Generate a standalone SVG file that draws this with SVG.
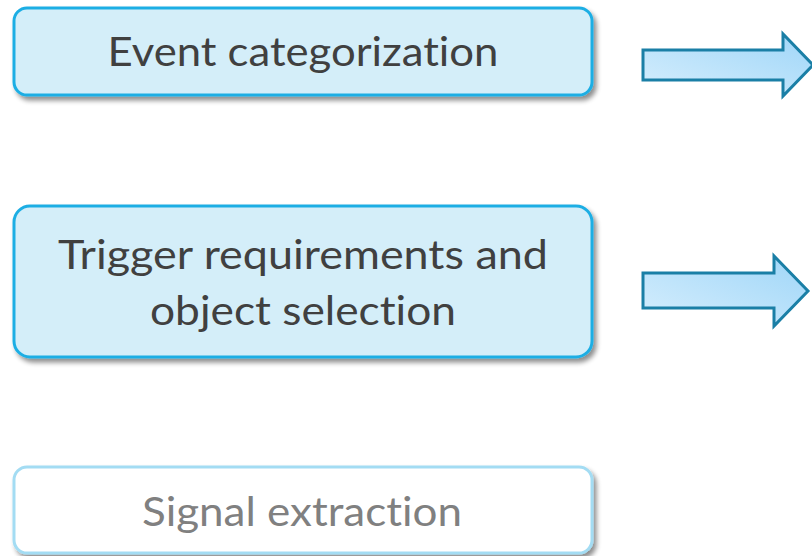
<svg xmlns="http://www.w3.org/2000/svg" width="812" height="556" viewBox="0 0 812 556">
  <defs>
    <filter id="shadow" x="-5%" y="-20%" width="110%" height="150%">
      <feGaussianBlur in="SourceAlpha" stdDeviation="2.5"/>
      <feOffset dx="3" dy="4" result="b"/>
      <feComponentTransfer><feFuncA type="linear" slope="0.45"/></feComponentTransfer>
      <feMerge><feMergeNode/><feMergeNode in="SourceGraphic"/></feMerge>
    </filter>
    <linearGradient id="arrowFill" x1="0" y1="1" x2="1" y2="0">
      <stop offset="0" stop-color="#d6eefd"/>
      <stop offset="1" stop-color="#9fd6f8"/>
    </linearGradient>
    <style>
      .box { fill: #d4eef9; stroke: #1eaee4; stroke-width: 3; }
      .box.dim { fill: #ffffff; stroke: #a3dcf3; }
      .label { font-family: Lato, "Open Sans", sans-serif; font-size: 41px; fill: #404040; text-anchor: middle;
               font-variant-ligatures: none; font-feature-settings: "liga" 0, "clig" 0; }
      .label.dim { fill: #808080; }
      .arrow { fill: url(#arrowFill); stroke: #1a7fa6; stroke-width: 3; stroke-linejoin: miter; }
    </style>
  </defs>
  <rect width="812" height="556" fill="#ffffff"/>

  <g id="event-categorization">
    <rect class="box" x="14" y="8" width="578" height="87" rx="13" filter="url(#shadow)"/>
    <text class="label" x="303" y="66" textLength="391" lengthAdjust="spacingAndGlyphs">Event categorization</text>
  </g>

  <g id="trigger-requirements">
    <rect class="box" x="14" y="206" width="578" height="151" rx="16" filter="url(#shadow)"/>
    <text class="label" x="303" y="269" textLength="490" lengthAdjust="spacingAndGlyphs">Trigger requirements and</text>
    <text class="label" x="303" y="325" textLength="306" lengthAdjust="spacingAndGlyphs">object selection</text>
  </g>

  <g id="signal-extraction">
    <rect class="box dim" x="14" y="467" width="578" height="86" rx="13" filter="url(#shadow)"/>
    <text class="label dim" x="302" y="526" textLength="320" lengthAdjust="spacingAndGlyphs">Signal extraction</text>
  </g>

  <g id="connectors">
    <polygon class="arrow" points="643,50 783,50 783,34 813,65 783,96 783,80 643,80"/>
    <polygon class="arrow" points="643,273 774,273 774,256 808,291 774,326 774,308 643,308"/>
  </g>
</svg>
